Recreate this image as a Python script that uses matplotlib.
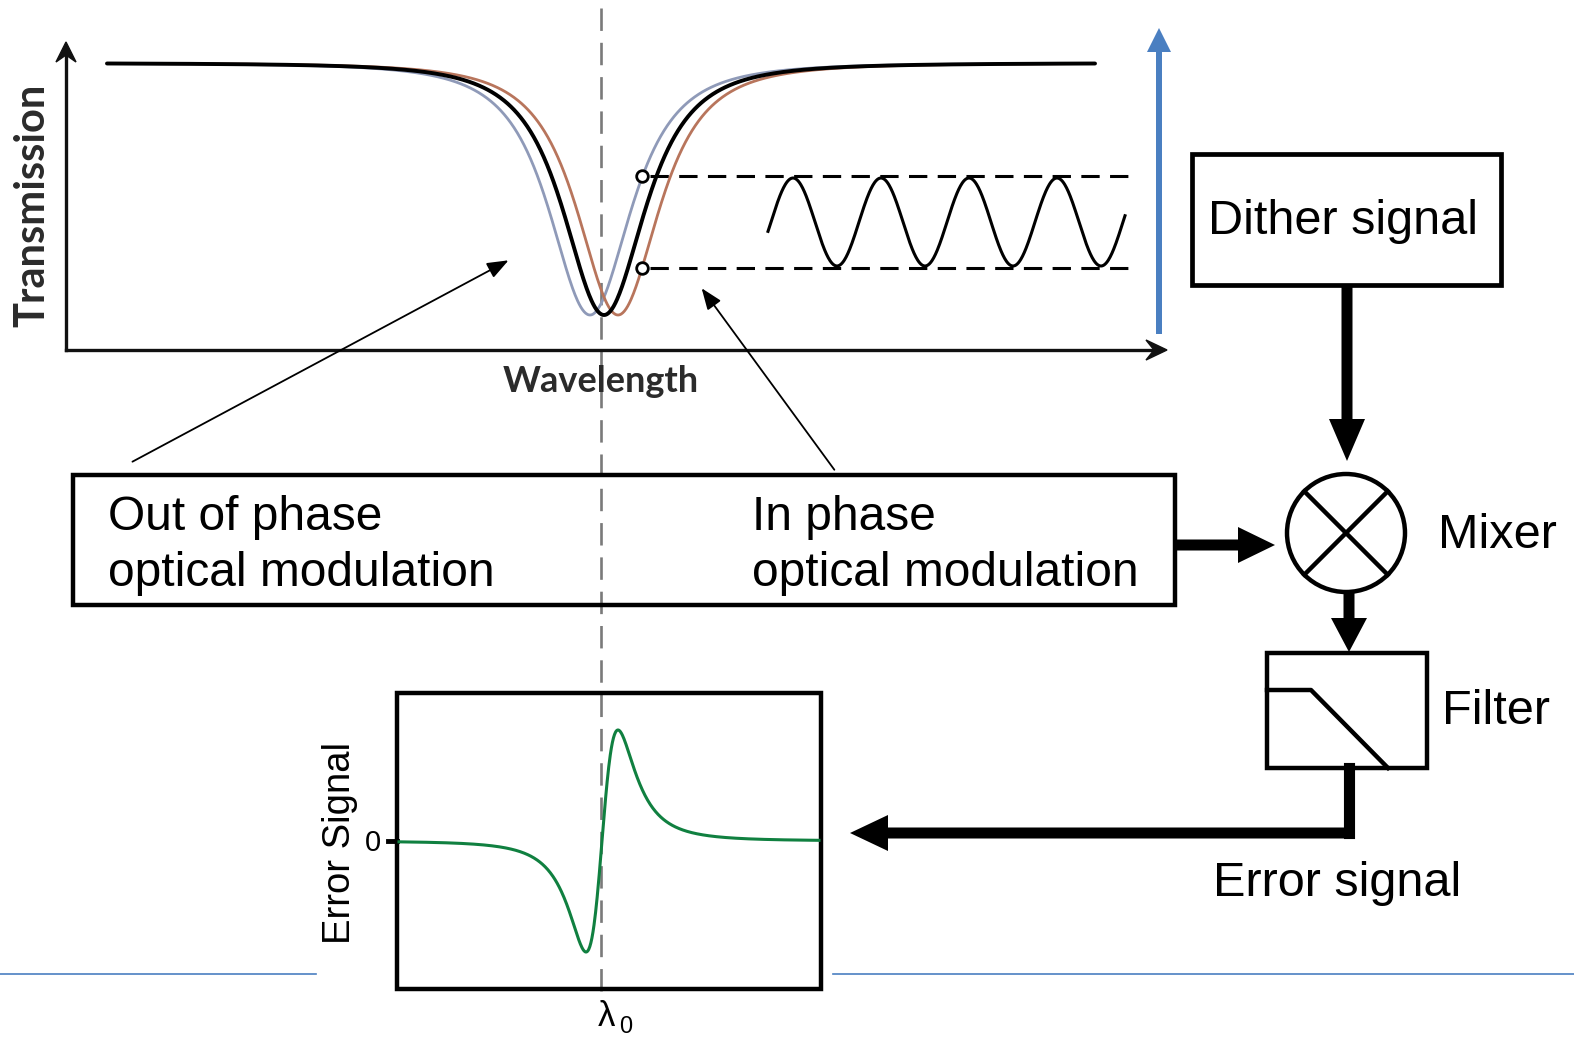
import numpy as np
import matplotlib
matplotlib.use("Agg")
import matplotlib.pyplot as plt
from matplotlib.patches import Rectangle, Circle, FancyArrow, Polygon

# canvas is drawn in pixel units of the 1574 x 1041 reference
W, H = 1574, 1041

# transmission dips (pixel space): centres, colours, line widths
dip_centres = [590, 618, 604]
dip_colors = ["#8f9ab8", "#b8755c", "#000000"]
dip_widths = [2.0, 2.0, 2.8]
dip_halfwidth = 62.5
dip_power = 1.5
dip_top, dip_bottom = 63, 315
dip_x_range = [107, 1095]

# modulation markers and dither sine
marker_x = [642, 642]
marker_y = [176, 268]
sine_x_range = [768, 1125]
sine_period = 88
sine_first_peak = 793

# error signal (bottom panel)
err_centre = 602
err_halfwidth = 27.7
err_zero = 841
err_peak = 111

BLACK = "#000000"
BLUE = "#4a7fc1"
GRAY = "#7a7a7a"
GREEN = "#108040"
FONT = "Liberation Sans"

fig = plt.figure(figsize=(W / 100, H / 100), dpi=100)
ax = fig.add_axes([0, 0, 1, 1])
ax.set_xlim(0, W)
ax.set_ylim(H, 0)
ax.axis("off")


def block_arrow(x0, y0, x1, y1, width=10, head_w=36, head_l=38):
    ax.add_patch(FancyArrow(x0, y0, x1 - x0, y1 - y0, width=width, head_width=head_w,
                            head_length=head_l, length_includes_head=True,
                            color=BLACK, lw=0, zorder=5))


# ---- top transmission plot ----
ax.plot([66, 66], [350, 50], color="#111", lw=2.4, zorder=3)
ax.plot([66, 1155], [350, 350], color="#111", lw=2.4, zorder=3)
ax.add_patch(Polygon([[66, 42], [56, 62], [66, 55], [76, 62]], closed=True, color="#111", zorder=3))
ax.add_patch(Polygon([[1167, 350], [1146, 340], [1154, 350], [1146, 360]], closed=True, color="#111", zorder=3))
ax.text(32, 205, "Transmission", rotation=90, ha="center", va="center", fontsize=30,
        fontweight="bold", family="Lato", color="#2b2b2b")
ax.text(601, 381, "Wavelength", ha="center", va="center", fontsize=26,
        fontweight="bold", family="Lato", color="#2b2b2b", zorder=4)

xs = np.linspace(dip_x_range[0], dip_x_range[1], 1200)
for c, col, lw in zip(dip_centres, dip_colors, dip_widths):
    frac = (1 + ((xs - c) / dip_halfwidth) ** 2) ** -dip_power
    ys = dip_top + (dip_bottom - dip_top) * frac
    ax.plot(xs, ys, color=col, lw=lw, zorder=4, solid_capstyle="round")

for yl in marker_y:
    ax.plot([650, 1132], [yl, yl], color=BLACK, lw=2.2, ls=(0, (6, 3.4)), zorder=3)
ax.scatter(marker_x, marker_y, s=70, facecolor="white", edgecolor=BLACK, linewidth=2, zorder=6)

sx = np.linspace(sine_x_range[0], sine_x_range[1], 600)
mid, amp = np.mean(marker_y), (marker_y[1] - marker_y[0]) / 2 - 2
sy = mid - amp * np.cos(2 * np.pi * (sx - sine_first_peak) / sine_period)
ax.plot(sx, sy, color=BLACK, lw=2.2, zorder=4)

# blue amplitude arrow
ax.add_patch(FancyArrow(1159, 334, 0, -306, width=6, head_width=24, head_length=24,
                        length_includes_head=True, color=BLUE, lw=0, zorder=4))

# thin pointer arrows
ax.annotate("", xy=(511, 259), xytext=(130, 463),
            arrowprops=dict(arrowstyle="-|>,head_length=1.3,head_width=0.5", lw=1.3, color=BLACK))
ax.annotate("", xy=(700, 286), xytext=(836, 472),
            arrowprops=dict(arrowstyle="-|>,head_length=1.3,head_width=0.5", lw=1.3, color=BLACK))

# gray reference line at lambda_0
ax.plot([601, 601], [8, 992], color=GRAY, lw=1.9, ls=(0, (8.5, 4.5)), zorder=2)

# ---- modulation box ----
ax.add_patch(Rectangle((73, 475), 1102, 130, fill=False, lw=3.2, ec=BLACK, zorder=3))
ax.text(108, 517, "Out of phase", ha="left", va="center", fontsize=34.5, family=FONT)
ax.text(108, 573, "optical modulation", ha="left", va="center", fontsize=34.5, family=FONT)
ax.text(752, 517, "In phase", ha="left", va="center", fontsize=34.5, family=FONT)
ax.text(752, 573, "optical modulation", ha="left", va="center", fontsize=34.5, family=FONT)

# ---- feedback chain ----
ax.add_patch(Rectangle((1192, 154), 309, 131, fill=False, lw=3.4, ec=BLACK, zorder=3))
ax.text(1208, 222, "Dither signal", ha="left", va="center", fontsize=35, family=FONT)
block_arrow(1347, 285, 1347, 461, width=11, head_w=36, head_l=42)

mx, my, mr = 1346, 533, 59
ax.add_patch(Circle((mx, my), mr, fill=False, lw=3.2, ec=BLACK, zorder=3))
d = mr / np.sqrt(2)
ax.plot([mx - d, mx + d], [my - d, my + d], color=BLACK, lw=3.2, zorder=3)
ax.plot([mx - d, mx + d], [my + d, my - d], color=BLACK, lw=3.2, zorder=3)
ax.text(1438, 535, "Mixer", ha="left", va="center", fontsize=35, family=FONT)

block_arrow(1175, 545, 1275, 545, width=11, head_w=36, head_l=37)
block_arrow(1349, 592, 1349, 652, width=11, head_w=36, head_l=34)

ax.add_patch(Rectangle((1267, 653), 160, 115, fill=False, lw=3.2, ec=BLACK, zorder=3))
ax.plot([1267, 1311, 1388], [690, 690, 768], color=BLACK, lw=3.2, zorder=3)
ax.text(1442, 712, "Filter", ha="left", va="center", fontsize=35, family=FONT)

ax.plot([1349, 1349], [768, 833], color=BLACK, lw=8, solid_capstyle="projecting", zorder=5)
block_arrow(1349, 833, 850, 833, width=11, head_w=36, head_l=38)
ax.text(1213, 884, "Error signal", ha="left", va="center", fontsize=35, family=FONT)

# ---- error signal panel ----
ax.add_patch(Rectangle((397, 693), 424, 296, fill=False, lw=3.2, ec=BLACK, zorder=3))
ex = np.linspace(399, 819, 800)
u = (ex - err_centre) / err_halfwidth
shape = -2 * u / (1 + u ** 2) ** 2
ey = err_zero - err_peak * shape / np.max(shape) * -1
ax.plot(ex, ey, color=GREEN, lw=2.2, zorder=4)
ax.plot([388, 397], [841, 841], color=BLACK, lw=3.5, zorder=3)
ax.text(373, 843, "0", ha="center", va="center", fontsize=21, family=FONT)
ax.text(340, 843, "Error Signal", rotation=90, ha="center", va="center", fontsize=27.5, family=FONT)
ax.text(606, 1017, "λ", ha="center", va="center", fontsize=25, family=FONT)
ax.text(626, 1027, "0", ha="center", va="center", fontsize=17, family=FONT)

# blue rule lines at the bottom
ax.plot([0, 316], [974, 974], color=BLUE, lw=1.2)
ax.plot([833, W], [974, 974], color=BLUE, lw=1.2)

fig.savefig("out.png", dpi=100)
